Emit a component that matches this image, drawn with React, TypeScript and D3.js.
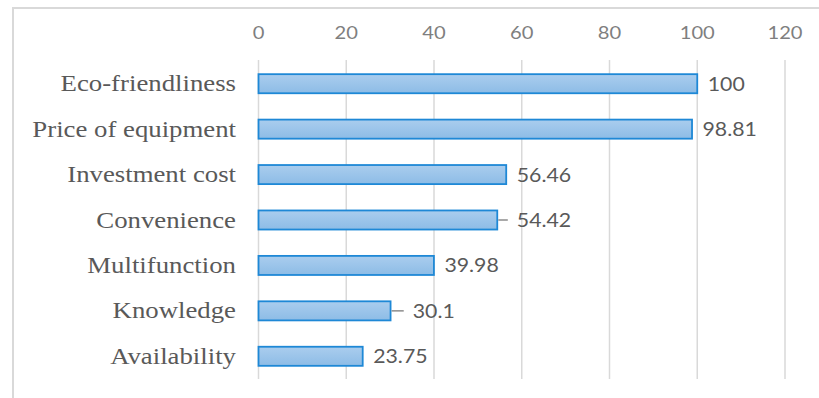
import React from "react";
import * as d3 from "d3";

const categories = [
  "Eco-friendliness",
  "Price of equipment",
  "Investment cost",
  "Convenience",
  "Multifunction",
  "Knowledge",
  "Availability",
];
const values = [100, 98.81, 56.46, 54.42, 39.98, 30.1, 23.75];
// small right-hand whiskers seen on two bars (in value units)
const whiskers = [0, 0, 0, 2.4, 0, 3.0, 0];
const ticks = [0, 20, 40, 60, 80, 100, 120];

const W = 819;
const H = 398;

export default function App() {
  const x = d3.scaleLinear().domain([0, 120]).range([258.5, 785]);
  const y = d3
    .scaleBand<string>()
    .domain(categories)
    .range([61, 379])
    .paddingInner(0.58)
    .paddingOuter(0.29);
  const bw = y.bandwidth();
  const sx = 1.19;
  const sxs = 1.12;
  const sxv = 1.15;

  return (
    <svg
      width={W}
      height={H}
      style={{ position: "absolute", left: 0, top: 0, background: "#fff" }}
    >
      <defs>
        <linearGradient id="barGrad" x1="0" y1="0" x2="0" y2="1">
          <stop offset="0%" stopColor="#aacdee" />
          <stop offset="100%" stopColor="#8dbce6" />
        </linearGradient>
      </defs>
      {/* frame */}
      <rect x={13} y={8} width={W + 20} height={H + 20} fill="none" stroke="#d9d9d9" strokeWidth={2} />
      {/* gridlines */}
      {ticks.map((t) => (
        <line
          key={"g" + t}
          x1={x(t)}
          x2={x(t)}
          y1={60}
          y2={379}
          stroke="#d9d9d9"
          strokeWidth={1.5}
        />
      ))}
      {/* tick labels */}
      {ticks.map((t) => (
        <text
          key={"t" + t}
          transform={`translate(${x(t)},39) scale(${sxs},1)`}
          textAnchor="middle"
          fontFamily="Lato, 'Open Sans', sans-serif"
          fontSize={18}
          fill="#7f7f7f"
        >
          {t}
        </text>
      ))}
      {/* bars */}
      {categories.map((c, i) => {
        const y0 = y(c)!;
        const cy = y0 + bw / 2;
        const xe = x(values[i]);
        const wEnd = x(values[i] + whiskers[i]);
        const labelX = (whiskers[i] > 0 ? wEnd : xe) + (whiskers[i] > 0 ? 9 : 10.5);
        return (
          <g key={c}>
            <rect
              x={x(0)}
              y={y0}
              width={xe - x(0)}
              height={bw}
              fill="url(#barGrad)"
              stroke="#1e88d6"
              strokeWidth={1.8}
            />
            {whiskers[i] > 0 && (
              <line x1={xe + 1} x2={wEnd} y1={cy} y2={cy} stroke="#8c8c8c" strokeWidth={1.5} />
            )}
            <text
              transform={`translate(${labelX},${cy + 7}) scale(${sxv},1)`}
              fontFamily="Lato, 'Open Sans', sans-serif"
              fontSize={18.5}
              fill="#595959"
            >
              {values[i]}
            </text>
            <text
              transform={`translate(236,${cy + 7.5}) scale(${sx},1)`}
              textAnchor="end"
              fontFamily="'Liberation Serif', 'Times New Roman', serif"
              fontSize={22.5}
              fill="#595959"
            >
              {c}
            </text>
          </g>
        );
      })}
    </svg>
  );
}
